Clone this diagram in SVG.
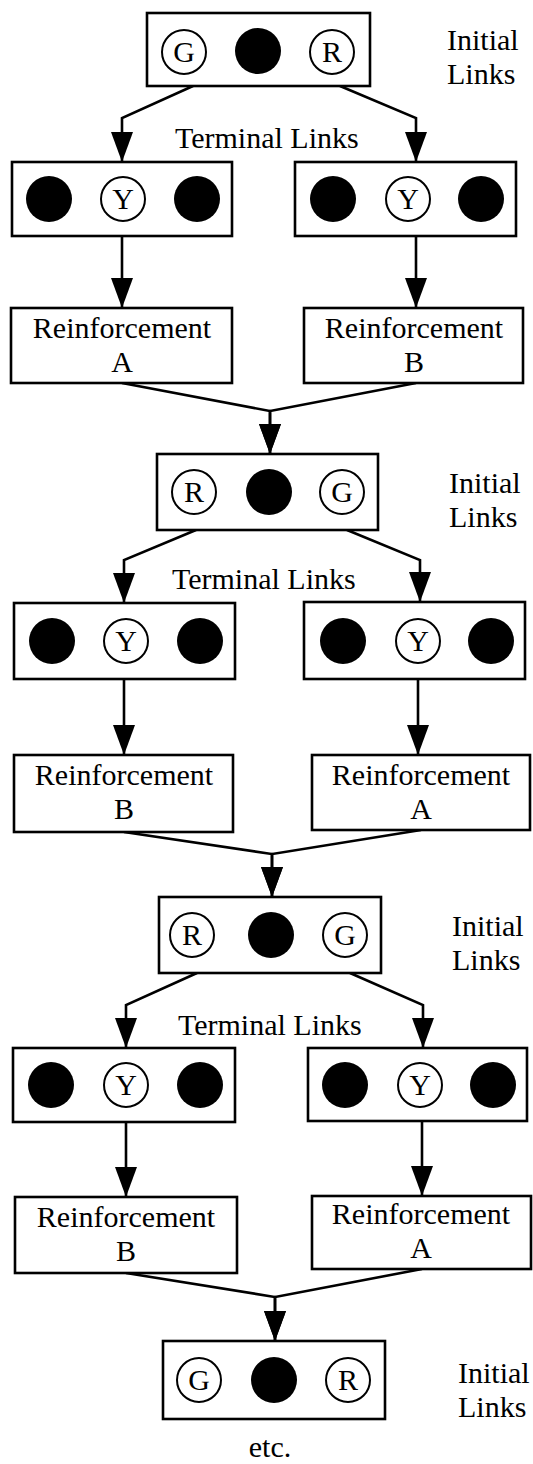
<svg xmlns="http://www.w3.org/2000/svg" width="533" height="1464" viewBox="0 0 533 1464">
<defs>
<style>
.box{fill:#fff;stroke:#000;stroke-width:2.6}
.ring{fill:#fff;stroke:#000;stroke-width:2}
.dot{fill:#000}
.t{font-family:"Liberation Serif","Times New Roman",serif;font-size:30px;fill:#000}
.c{text-anchor:middle}
.con{fill:none;stroke:#000;stroke-width:2.6;marker-end:url(#ah)}
</style>
<marker id="ah" markerUnits="userSpaceOnUse" markerWidth="30" markerHeight="22" refX="30" refY="11" orient="auto">
<path d="M0,0 L30,11 L0,22 Z" fill="#000"/>
</marker>
</defs>
<rect width="533" height="1464" fill="#fff"/>

<g id="connectors">
<path class="con" d="M193,86 L122,118 L122,162"/>
<path class="con" d="M340,86 L416,118 L416,162"/>
<path class="con" d="M122,236 L122,308"/>
<path class="con" d="M416,236 L416,308"/>
<path class="con" d="M122,383 L270,411 L270,454"/>
<path class="con" d="M416,383 L270,411 L270,454"/>

<path class="con" d="M196,530 L124,560 L124,603"/>
<path class="con" d="M347,530 L420,560 L420,602"/>
<path class="con" d="M124,679 L124,755"/>
<path class="con" d="M418,679 L418,755"/>
<path class="con" d="M124,832 L272,854 L272,897"/>
<path class="con" d="M421,830 L272,854 L272,897"/>

<path class="con" d="M197,973 L126,1005 L126,1048"/>
<path class="con" d="M350,973 L423,1005 L423,1048"/>
<path class="con" d="M126,1122 L126,1197"/>
<path class="con" d="M422,1121 L422,1196"/>
<path class="con" d="M126,1273 L275,1297 L275,1341"/>
<path class="con" d="M422,1269 L275,1297 L275,1341"/>
</g>

<g id="initial1">
<rect class="box" x="147" y="13" width="223" height="73"/>
<circle class="ring" cx="184" cy="52" r="22"/><text class="t c" x="184" y="62">G</text>
<circle class="dot" cx="258" cy="51" r="23"/>
<circle class="ring" cx="332" cy="52" r="22"/><text class="t c" x="332" y="62">R</text>
</g>
<g id="label-initial1"><text class="t" x="447" y="50">Initial<tspan x="447" y="84">Links</tspan></text></g>
<g id="label-terminal1"><text class="t" x="175" y="148">Terminal Links</text></g>

<g id="terminal1L">
<rect class="box" x="12" y="162" width="220" height="74"/>
<circle class="dot" cx="49" cy="199" r="23"/>
<circle class="ring" cx="123" cy="199" r="22"/><text class="t c" x="123" y="209">Y</text>
<circle class="dot" cx="197" cy="199" r="23"/>
</g>
<g id="terminal1R">
<rect class="box" x="295" y="162" width="221" height="74"/>
<circle class="dot" cx="333" cy="199" r="23"/>
<circle class="ring" cx="408" cy="199" r="22"/><text class="t c" x="408" y="209">Y</text>
<circle class="dot" cx="481" cy="199" r="23"/>
</g>
<g id="reinf1A">
<rect class="box" x="11" y="308" width="221" height="75"/>
<text class="t c" x="122" y="338">Reinforcement<tspan x="122" y="372">A</tspan></text>
</g>
<g id="reinf1B">
<rect class="box" x="304" y="308" width="219" height="75"/>
<text class="t c" x="414" y="338">Reinforcement<tspan x="414" y="372">B</tspan></text>
</g>

<g id="initial2">
<rect class="box" x="157" y="454" width="221" height="76"/>
<circle class="ring" cx="194" cy="492" r="22"/><text class="t c" x="194" y="502">R</text>
<circle class="dot" cx="269" cy="492" r="23"/>
<circle class="ring" cx="342" cy="492" r="22"/><text class="t c" x="342" y="502">G</text>
</g>
<g id="label-initial2"><text class="t" x="449" y="493">Initial<tspan x="449" y="527">Links</tspan></text></g>
<g id="label-terminal2"><text class="t" x="172" y="589">Terminal Links</text></g>

<g id="terminal2L">
<rect class="box" x="14" y="603" width="221" height="76"/>
<circle class="dot" cx="52" cy="641" r="23"/>
<circle class="ring" cx="126" cy="641" r="22"/><text class="t c" x="126" y="651">Y</text>
<circle class="dot" cx="200" cy="641" r="23"/>
</g>
<g id="terminal2R">
<rect class="box" x="304" y="602" width="221" height="77"/>
<circle class="dot" cx="343" cy="641" r="23"/>
<circle class="ring" cx="418" cy="641" r="22"/><text class="t c" x="418" y="651">Y</text>
<circle class="dot" cx="491" cy="641" r="23"/>
</g>
<g id="reinf2B">
<rect class="box" x="14" y="755" width="219" height="77"/>
<text class="t c" x="124" y="785">Reinforcement<tspan x="124" y="819">B</tspan></text>
</g>
<g id="reinf2A">
<rect class="box" x="312" y="755" width="218" height="75"/>
<text class="t c" x="421" y="785">Reinforcement<tspan x="421" y="819">A</tspan></text>
</g>

<g id="initial3">
<rect class="box" x="159" y="897" width="222" height="76"/>
<circle class="ring" cx="192" cy="935" r="22"/><text class="t c" x="192" y="945">R</text>
<circle class="dot" cx="271" cy="935" r="23"/>
<circle class="ring" cx="345" cy="935" r="22"/><text class="t c" x="345" y="945">G</text>
</g>
<g id="label-initial3"><text class="t" x="452" y="936">Initial<tspan x="452" y="970">Links</tspan></text></g>
<g id="label-terminal3"><text class="t" x="178" y="1035">Terminal Links</text></g>

<g id="terminal3L">
<rect class="box" x="13" y="1048" width="222" height="74"/>
<circle class="dot" cx="51" cy="1085" r="23"/>
<circle class="ring" cx="126" cy="1085" r="22"/><text class="t c" x="126" y="1095">Y</text>
<circle class="dot" cx="200" cy="1085" r="23"/>
</g>
<g id="terminal3R">
<rect class="box" x="308" y="1048" width="219" height="73"/>
<circle class="dot" cx="345" cy="1085" r="23"/>
<circle class="ring" cx="420" cy="1085" r="22"/><text class="t c" x="420" y="1095">Y</text>
<circle class="dot" cx="493" cy="1085" r="23"/>
</g>
<g id="reinf3B">
<rect class="box" x="15" y="1197" width="222" height="76"/>
<text class="t c" x="126" y="1227">Reinforcement<tspan x="126" y="1261">B</tspan></text>
</g>
<g id="reinf3A">
<rect class="box" x="312" y="1196" width="219" height="73"/>
<text class="t c" x="421" y="1224">Reinforcement<tspan x="421" y="1258">A</tspan></text>
</g>

<g id="initial4">
<rect class="box" x="163" y="1341" width="222" height="78"/>
<circle class="ring" cx="199" cy="1380" r="22"/><text class="t c" x="199" y="1390">G</text>
<circle class="dot" cx="274" cy="1380" r="23"/>
<circle class="ring" cx="348" cy="1380" r="22"/><text class="t c" x="348" y="1390">R</text>
</g>
<g id="label-initial4"><text class="t" x="458" y="1383">Initial<tspan x="458" y="1417">Links</tspan></text></g>
<g id="label-etc"><text class="t c" x="270" y="1457">etc.</text></g>
</svg>
